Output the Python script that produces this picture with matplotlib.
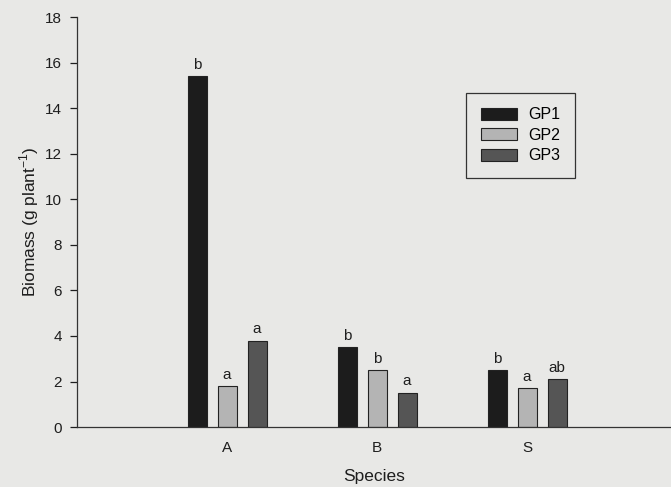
import numpy as np
import matplotlib.pyplot as plt

plt.rcParams['font.family'] = ['Liberation Sans', 'DejaVu Sans']

species = ["A", "B", "S"]
gp1 = [15.4, 3.5, 2.5]
gp2 = [1.8, 2.5, 1.7]
gp3 = [3.8, 1.5, 2.1]
letters1 = ["b", "b", "b"]
letters2 = ["a", "b", "a"]
letters3 = ["a", "a", "ab"]

series = [("GP1", gp1, letters1, "#1c1c1c"),
          ("GP2", gp2, letters2, "#b4b4b4"),
          ("GP3", gp3, letters3, "#555555")]

bg = "#e8e8e6"
txt = "#1e1e1e"
fig = plt.figure(figsize=(6.71, 4.87), dpi=100, facecolor=bg)
ax = fig.add_axes([0.115, 0.123, 0.885, 0.842], facecolor=bg)

x = np.arange(len(species))
width = 0.127
offsets = [-0.2, 0.0, 0.2]
for (name, vals, lets, col), off in zip(series, offsets):
    bars = ax.bar(x + off, vals, width, color=col, edgecolor="#222222",
                  linewidth=0.8, label=name)
    for b, t in zip(bars, lets):
        ax.text(b.get_x() + b.get_width() / 2, b.get_height() + 0.2, t,
                ha="center", va="bottom", fontsize=11, color=txt)

ax.set_xlim(-1.0, 2.96)
ax.set_ylim(0, 18)
ax.set_yticks(range(0, 19, 2))
ax.set_xticks(x)
ax.set_xticklabels(species)
ax.tick_params(axis="x", length=0, pad=10, labelsize=11, colors=txt)
ax.tick_params(axis="y", length=5, width=0.9, direction="out", labelsize=11,
               colors=txt, pad=6)
for s in ["top", "right"]:
    ax.spines[s].set_visible(False)
for s in ["left", "bottom"]:
    ax.spines[s].set_color("#333333")
    ax.spines[s].set_linewidth(0.9)

ax.set_xlabel("Species", fontsize=12.5, color=txt, labelpad=10)
ax.set_ylabel("Biomass (g plant$^{\\mathregular{-1}}$)", fontsize=12.5,
              color=txt, labelpad=3)

leg = ax.legend(loc="upper left", bbox_to_anchor=(0.655, 0.815), fontsize=11.5,
                fancybox=False, framealpha=1, facecolor=bg, edgecolor="#333333",
                handlelength=2.3, handleheight=0.8, borderpad=0.9,
                labelspacing=0.35, handletextpad=0.7, borderaxespad=0)
leg.get_frame().set_linewidth(0.9)

fig.savefig("out.png", dpi=100, facecolor=bg)
